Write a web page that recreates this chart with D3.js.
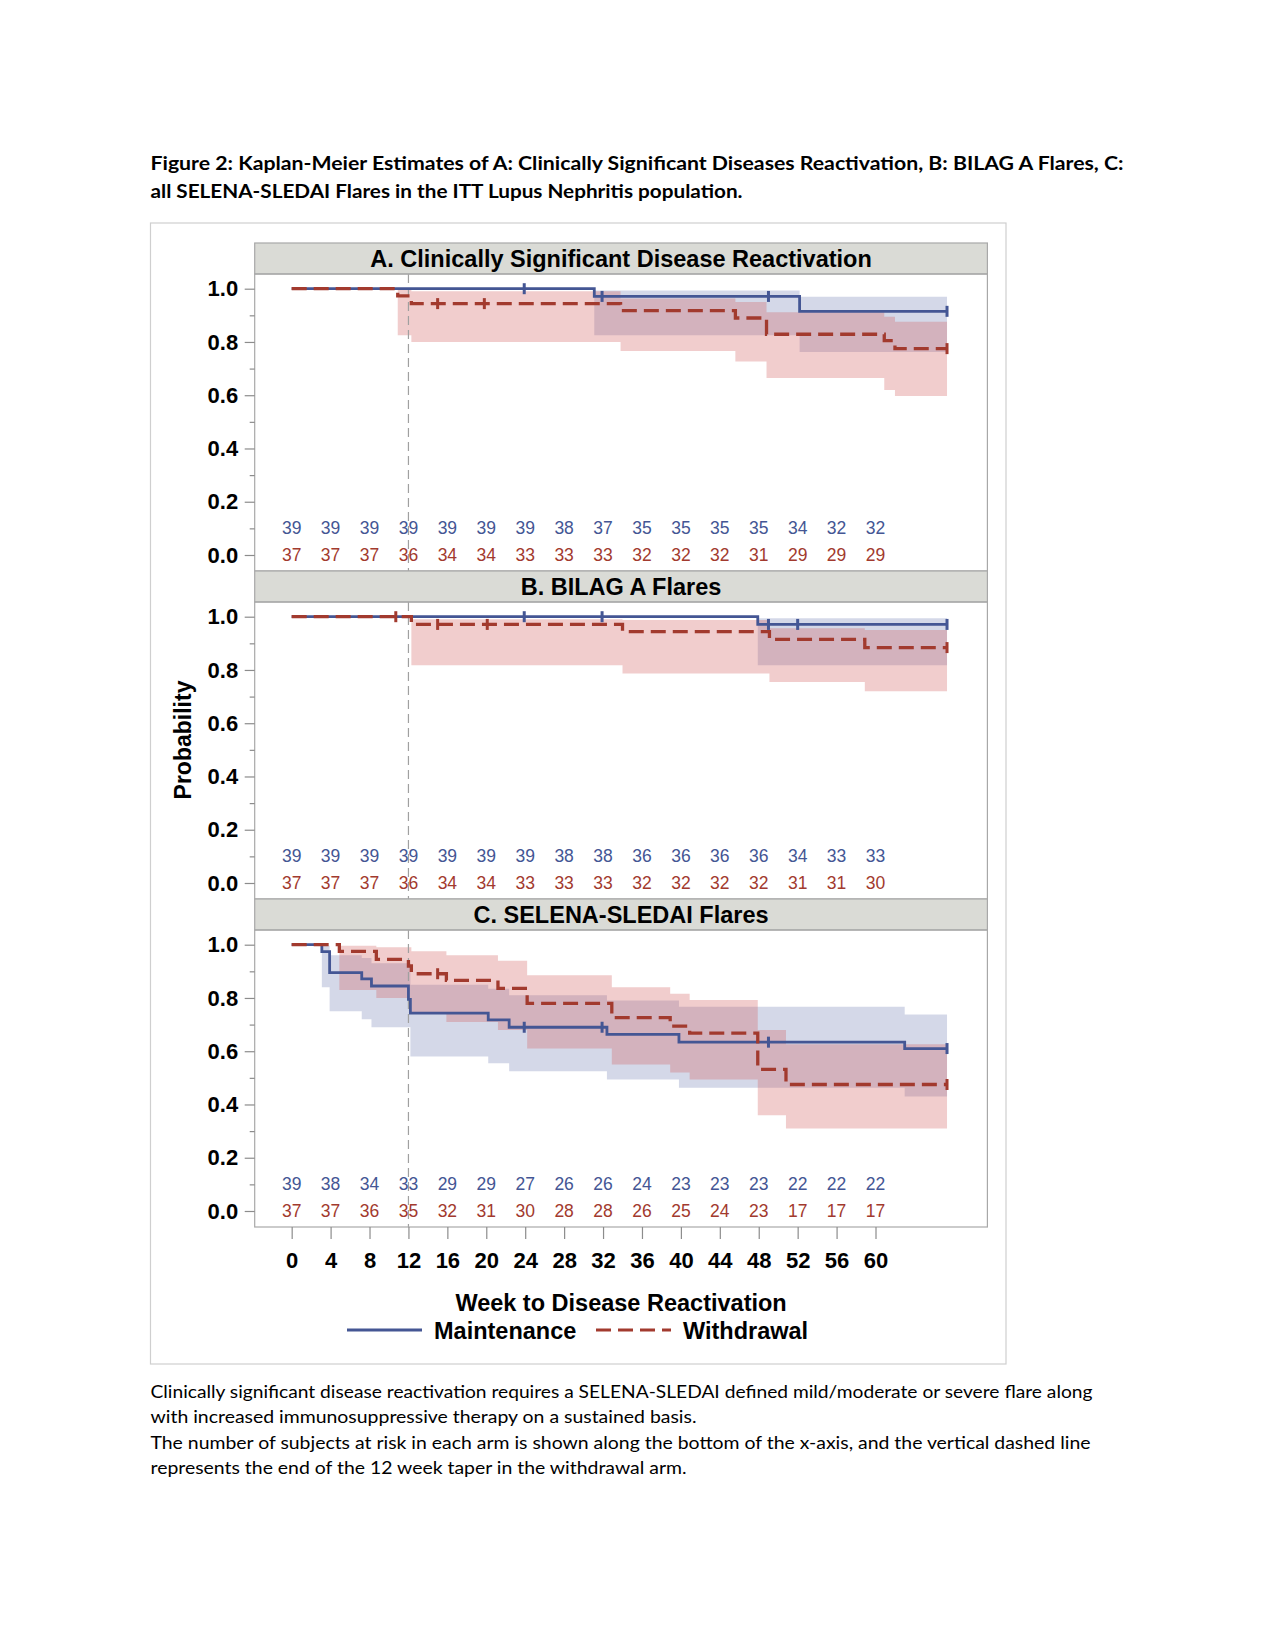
<!DOCTYPE html>
<html>
<head>
<meta charset="utf-8">
<script src="https://cdn.jsdelivr.net/npm/d3@7"></script>
<style>
body { margin: 0; background: #fff; }
svg text { font-family: "Liberation Sans", Arial, sans-serif; }
</style>
</head>
<body>
<svg id="chart" width="1275" height="1650"></svg>
<script>
'use strict';

var weeks = [0, 4, 8, 12, 16, 20, 24, 28, 32, 36, 40, 44, 48, 52, 56, 60];
var probTicks = [0, 0.2, 0.4, 0.6, 0.8, 1.0];
var probMinor = [0.1, 0.3, 0.5, 0.7, 0.9];
var arms = ['Maintenance', 'Withdrawal'];
var panelTitles = ['A. Clinically Significant Disease Reactivation', 'B. BILAG A Flares', 'C. SELENA-SLEDAI Flares'];
var lastWeek = 67.35;
var taperWeek = 12;

// KM steps: [week, estimate]
var stepsA_m = [[0, 1], [31.1, 0.971], [52.2, 0.915]];
var stepsA_w = [[0, 1], [10.9, 0.973], [12.3, 0.944], [33.8, 0.918], [45.6, 0.89], [48.8, 0.829], [60.9, 0.805], [62.0, 0.775]];
var stepsB_m = [[0, 1], [47.9, 0.971]];
var stepsB_w = [[0, 1], [12.3, 0.971], [34.0, 0.944], [49.1, 0.915], [58.9, 0.884]];
var stepsC_m = [[0, 1], [3.1, 0.974], [3.9, 0.895], [7.2, 0.872], [8.2, 0.845], [12.0, 0.795], [12.2, 0.743], [20.2, 0.718], [22.35, 0.69], [32.4, 0.663], [39.8, 0.634], [63.0, 0.61]];
var stepsC_w = [[0, 1], [4.9, 0.975], [8.7, 0.945], [12.0, 0.92], [12.3, 0.891], [15.9, 0.866], [21.2, 0.836], [24.2, 0.78], [32.9, 0.726], [38.9, 0.694], [40.9, 0.668], [47.9, 0.532], [50.8, 0.475]];

// confidence bands: [week, upper, lower]
var bandA_m = [[31.1, 0.993, 0.825], [52.2, 0.97, 0.762]];
var bandA_w = [[10.9, 1.0, 0.825], [12.3, 0.99, 0.80], [33.8, 0.963, 0.766], [45.6, 0.95, 0.727], [48.8, 0.912, 0.665], [60.9, 0.895, 0.62], [62.0, 0.876, 0.597]];
var bandB_m = [[47.9, 0.994, 0.818]];
var bandB_w = [[12.3, 0.99, 0.818], [34.0, 0.988, 0.787], [49.1, 0.957, 0.755], [58.9, 0.95, 0.72]];
var bandC_m = [[3.1, 0.996, 0.84], [3.9, 0.96, 0.75], [7.2, 0.95, 0.72], [8.2, 0.93, 0.69], [12.2, 0.85, 0.58], [20.2, 0.835, 0.555], [22.35, 0.81, 0.525], [32.4, 0.79, 0.494], [39.8, 0.767, 0.463], [63.0, 0.738, 0.43]];
var bandC_w = [[4.9, 0.996, 0.83], [8.7, 0.99, 0.80], [12.3, 0.975, 0.745], [15.9, 0.96, 0.71], [21.2, 0.94, 0.68], [24.2, 0.885, 0.61], [32.9, 0.84, 0.55], [38.9, 0.816, 0.52], [40.9, 0.792, 0.494], [47.9, 0.68, 0.36], [50.8, 0.626, 0.31]];

// censored weeks
var censA_m = [23.9, 31.9, 49.0, 67.35];
var censA_w = [15.0, 19.8, 67.35];
var censB_m = [23.9, 31.9, 49.0, 52.0, 67.35];
var censB_w = [10.7, 15.0, 20.1, 67.35];
var censC_m = [23.9, 31.9, 49.0, 67.35];
var censC_w = [15.0, 67.35];

// numbers at risk
var riskA_m = [39, 39, 39, 39, 39, 39, 39, 38, 37, 35, 35, 35, 35, 34, 32, 32];
var riskA_w = [37, 37, 37, 36, 34, 34, 33, 33, 33, 32, 32, 32, 31, 29, 29, 29];
var riskB_m = [39, 39, 39, 39, 39, 39, 39, 38, 38, 36, 36, 36, 36, 34, 33, 33];
var riskB_w = [37, 37, 37, 36, 34, 34, 33, 33, 33, 32, 32, 32, 32, 31, 31, 30];
var riskC_m = [39, 38, 34, 33, 29, 29, 27, 26, 26, 24, 23, 23, 23, 22, 22, 22];
var riskC_w = [37, 37, 36, 35, 32, 31, 30, 28, 28, 26, 25, 24, 23, 17, 17, 17];

var panels = [
	{ title: panelTitles[0], steps: [stepsA_m, stepsA_w], bands: [bandA_m, bandA_w], cens: [censA_m, censA_w], risk: [riskA_m, riskA_w] },
	{ title: panelTitles[1], steps: [stepsB_m, stepsB_w], bands: [bandB_m, bandB_w], cens: [censB_m, censB_w], risk: [riskB_m, riskB_w] },
	{ title: panelTitles[2], steps: [stepsC_m, stepsC_w], bands: [bandC_m, bandC_w], cens: [censC_m, censC_w], risk: [riskC_m, riskC_w] }
];

var lineColors = ['#445694', '#a23a2e'];
var bandColors = ['#6f7eb3', '#d05b5b'];

var svg = d3.select('#chart');

var left = 254.7, right = 987.4;
var firstTop = 243, headerH = 31, plotH = 297;

var x = d3.scaleLinear().domain([-3.8, 71.5]).range([left, right]);

// figure title
var titleLines = [
	'Figure 2: Kaplan-Meier Estimates of A: Clinically Significant Diseases Reactivation, B: BILAG A Flares, C:',
	'all SELENA-SLEDAI Flares in the ITT Lupus Nephritis population.'
];
var titleWidths = [973, 592];
svg.selectAll('.ftitle')
	.data(titleLines)
	.enter().append('text')
	.attr('x', 150.5)
	.attr('y', function(d, i) { return 170 + i * 28; })
	.attr('textLength', function(d, i) { return titleWidths[i]; })
	.attr('lengthAdjust', 'spacingAndGlyphs')
	.style('font-family', 'Lato, "Open Sans", sans-serif')
	.style('font-weight', 'bold')
	.style('font-size', '19px')
	.text(function(d) { return d; });

// outer frame
svg.append('rect')
	.attr('x', 150.5).attr('y', 223)
	.attr('width', 855.5).attr('height', 1141)
	.attr('fill', 'none')
	.attr('stroke', '#cfcfcf')
	.attr('stroke-width', 1.2);

function valueAt(steps, t) {
	var v = steps[0][1];
	steps.forEach(function(s) { if (s[0] <= t) { v = s[1]; } });
	return v;
}

panels.forEach(function(p, i) {
	var hTop = firstTop + i * (headerH + plotH);
	var pTop = hTop + headerH;
	var pBot = pTop + plotH;
	var y = d3.scaleLinear().domain([-0.0601, 1.0552]).range([pBot, pTop]);
	var g = svg.append('g');

	// header strip
	g.append('rect')
		.attr('x', left).attr('y', hTop)
		.attr('width', right - left).attr('height', headerH)
		.attr('fill', '#dadbd6')
		.attr('stroke', '#a8a8a8')
		.attr('stroke-width', 1.2);
	g.append('text')
		.attr('x', (left + right) / 2)
		.attr('y', hTop + headerH / 2 + 8)
		.attr('text-anchor', 'middle')
		.style('font-weight', 'bold')
		.style('font-size', '23.5px')
		.text(p.title);

	// confidence bands
	var area = d3.area()
		.curve(d3.curveStepAfter)
		.x(function(d) { return x(d[0]); })
		.y0(function(d) { return y(d[2]); })
		.y1(function(d) { return y(d[1]); });
	p.bands.forEach(function(b, k) {
		var pts = b.slice();
		var last = b[b.length - 1];
		pts.push([lastWeek, last[1], last[2]]);
		g.append('path')
			.attr('d', area(pts))
			.attr('fill', bandColors[k])
			.attr('fill-opacity', 0.3);
	});

	// end of taper reference line
	g.append('line')
		.attr('x1', x(taperWeek)).attr('x2', x(taperWeek))
		.attr('y1', pTop).attr('y2', pBot)
		.attr('stroke', '#a0a0a0')
		.attr('stroke-width', 1.2)
		.attr('stroke-dasharray', '9,5');

	// survival curves
	var line = d3.line()
		.curve(d3.curveStepAfter)
		.x(function(d) { return x(d[0]); })
		.y(function(d) { return y(d[1]); });
	p.steps.forEach(function(s, k) {
		var pts = s.slice();
		pts.push([lastWeek, s[s.length - 1][1]]);
		g.append('path')
			.attr('d', line(pts))
			.attr('fill', 'none')
			.attr('stroke', lineColors[k])
			.attr('stroke-width', k === 0 ? 2.8 : 3.3)
			.attr('stroke-dasharray', k === 0 ? null : '15,7');
	});

	// censor marks
	p.cens.forEach(function(c, k) {
		g.selectAll('.cens' + k)
			.data(c)
			.enter().append('line')
			.attr('x1', function(d) { return x(d); })
			.attr('x2', function(d) { return x(d); })
			.attr('y1', function(d) { return y(valueAt(p.steps[k], d)) - 5.5; })
			.attr('y2', function(d) { return y(valueAt(p.steps[k], d)) + 5.5; })
			.attr('stroke', lineColors[k])
			.attr('stroke-width', 3);
	});

	// numbers at risk
	p.risk.forEach(function(r, k) {
		g.selectAll('.risk' + k)
			.data(r)
			.enter().append('text')
			.attr('x', function(d, j) { return x(weeks[j]); })
			.attr('y', y(k === 0 ? 0.1 : 0) + 6)
			.attr('text-anchor', 'middle')
			.attr('fill', lineColors[k])
			.style('font-size', '17.5px')
			.text(function(d) { return d; });
	});

	// plot frame
	g.append('rect')
		.attr('x', left).attr('y', pTop)
		.attr('width', right - left).attr('height', plotH)
		.attr('fill', 'none')
		.attr('stroke', '#a8a8a8')
		.attr('stroke-width', 1.2);

	// y axis
	var yAxis = g.append('g')
		.attr('transform', 'translate(' + left + ',0)')
		.call(d3.axisLeft(y).tickValues(probTicks).tickSize(10).tickPadding(6.5).tickFormat(d3.format('.1f')));
	var yMinor = g.append('g')
		.attr('transform', 'translate(' + left + ',0)')
		.call(d3.axisLeft(y).tickValues(probMinor).tickSize(5).tickFormat(''));
	[yAxis, yMinor].forEach(function(a) {
		a.select('.domain').remove();
		a.selectAll('line').attr('stroke', '#8c8c8c').attr('stroke-width', 1.2);
	});
	yAxis.selectAll('text')
		.attr('fill', '#000')
		.style('font-family', '"Liberation Sans", Arial, sans-serif')
		.style('font-weight', 'bold')
		.style('font-size', '22px');

	if (i === panels.length - 1) {
		var xAxis = g.append('g')
			.attr('transform', 'translate(0,' + pBot + ')')
			.call(d3.axisBottom(x).tickValues(weeks).tickSize(12).tickPadding(13));
		xAxis.select('.domain').remove();
		xAxis.selectAll('line').attr('stroke', '#8c8c8c').attr('stroke-width', 1.2);
		xAxis.selectAll('text')
			.attr('fill', '#000')
			.style('font-family', '"Liberation Sans", Arial, sans-serif')
			.style('font-weight', 'bold')
			.style('font-size', '22px');
	}
});

// axis titles
svg.append('text')
	.attr('transform', 'translate(191,740) rotate(-90)')
	.attr('text-anchor', 'middle')
	.style('font-weight', 'bold')
	.style('font-size', '23px')
	.text('Probability');

svg.append('text')
	.attr('x', (left + right) / 2)
	.attr('y', 1311)
	.attr('text-anchor', 'middle')
	.style('font-weight', 'bold')
	.style('font-size', '23.5px')
	.text('Week to Disease Reactivation');

// legend
var legendX = [347, 596];
var legend = svg.selectAll('.legend')
	.data(arms)
	.enter().append('g')
	.attr('transform', function(d, i) { return 'translate(' + legendX[i] + ',1330)'; });
legend.append('line')
	.attr('x1', 0).attr('x2', 75)
	.attr('y1', 0).attr('y2', 0)
	.attr('stroke', function(d, i) { return lineColors[i]; })
	.attr('stroke-width', 3.2)
	.attr('stroke-dasharray', function(d, i) { return i === 0 ? null : '15,7'; });
legend.append('text')
	.attr('x', 87)
	.attr('y', 8.5)
	.style('font-weight', 'bold')
	.style('font-size', '23.5px')
	.text(function(d) { return d; });

// footnote
var notes = [
	'Clinically significant disease reactivation requires a SELENA-SLEDAI defined mild/moderate or severe flare along',
	'with increased immunosuppressive therapy on a sustained basis.',
	'The number of subjects at risk in each arm is shown along the bottom of the x-axis, and the vertical dashed line',
	'represents the end of the 12 week taper in the withdrawal arm.'
];
var noteWidths = [942, 546, 940, 536];
svg.selectAll('.note')
	.data(notes)
	.enter().append('text')
	.attr('x', 150.5)
	.attr('y', function(d, i) { return 1398 + i * 25.3; })
	.attr('textLength', function(d, i) { return noteWidths[i]; })
	.attr('lengthAdjust', 'spacingAndGlyphs')
	.style('font-family', 'Lato, "Open Sans", sans-serif')
	.style('font-size', '17px')
	.text(function(d) { return d; });
</script>
</body>
</html>
